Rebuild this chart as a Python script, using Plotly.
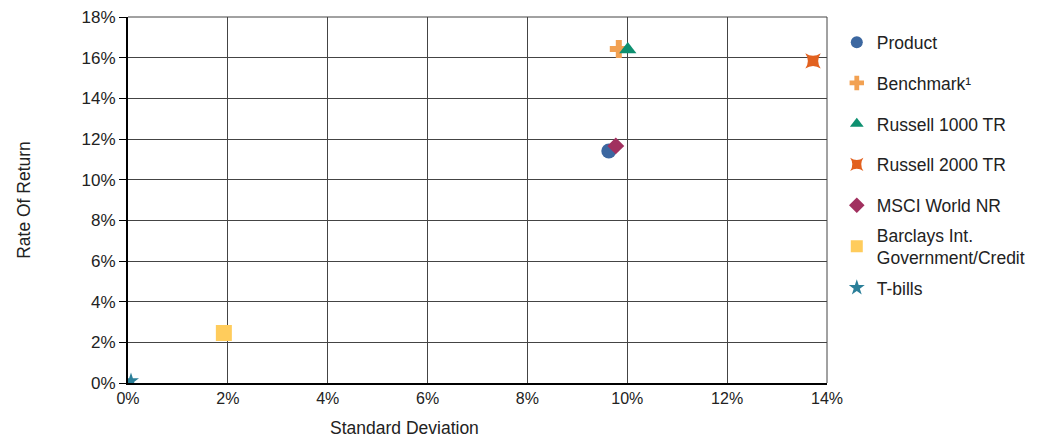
import plotly.graph_objects as go

names = ["Product", "Benchmark¹", "Russell 1000 TR", "Russell 2000 TR", "MSCI World NR",
         "Barclays Int.<br>Government/Credit", "T-bills"]
std_dev = [9.63, 9.83, 10.01, 13.72, 9.77, 1.92, 0.06]
ret = [11.41, 16.43, 16.40, 15.84, 11.66, 2.46, 0.10]
colors = ["#3C67A0", "#F2A152", "#0E9070", "#E2611F", "#A1305F", "#FFCC5C", "#2B7F99"]
symbols = ["circle", "cross", "triangle-up", "star-square", "diamond", "square", "star"]
sizes = [15, 15, 15, 14, 13, 16, 12]
legend_ids = ["legend", "legend", "legend", "legend", "legend", "legend3", "legend2"]

fig = go.Figure()
for i, n in enumerate(names):
    fig.add_trace(go.Scatter(
        x=[std_dev[i]], y=[ret[i]], mode="markers", name=n, legendgroup=n,
        legend=legend_ids[i],
        marker=dict(color=colors[i], symbol=symbols[i], size=sizes[i], line=dict(width=0)),
    ))

leg_font = dict(size=17.5, color="#222")
fig.update_layout(
    width=1034, height=431,
    margin=dict(l=120, r=215, t=9, b=56),
    paper_bgcolor="white", plot_bgcolor="white",
    font=dict(family="Liberation Sans, Arial, sans-serif", size=17, color="#222"),
    legend=dict(x=1.014, y=0.98, xanchor="left", yanchor="top", tracegroupgap=15,
                font=leg_font, itemsizing="constant", bgcolor="rgba(0,0,0,0)"),
    legend3=dict(x=1.014, y=0.373, xanchor="left", yanchor="middle",
                 font=leg_font, itemsizing="constant", bgcolor="rgba(0,0,0,0)"),
    legend2=dict(x=1.014, y=0.26, xanchor="left", yanchor="middle",
                 font=leg_font, itemsizing="constant", bgcolor="rgba(0,0,0,0)"),
    xaxis=dict(range=[0, 14], dtick=2, ticksuffix="%", showgrid=True, gridcolor="#444",
               gridwidth=1, showline=True, linecolor="black", linewidth=2, zeroline=False,
               tickfont=dict(size=16), ticks="", automargin=False, ticklabeloverflow="allow"),
    yaxis=dict(range=[0, 18], dtick=2, ticksuffix="%", showgrid=True, gridcolor="#444",
               gridwidth=1, showline=True, linecolor="black", linewidth=2, zeroline=False,
               tickfont=dict(size=17), title=dict(text="Rate Of Return", font=dict(size=17.5), standoff=46),
               ticks="outside", ticklen=7, tickcolor="black", tickwidth=1, automargin=False,
               ticklabeloverflow="allow"),
    showlegend=True,
)
fig.add_annotation(text="Standard Deviation", xref="paper", yref="paper", x=0.396, y=-0.123,
                   xanchor="center", yanchor="middle", showarrow=False,
                   font=dict(size=17.5, color="#222"))
fig.add_shape(type="line", xref="paper", yref="paper", x0=0, x1=1, y0=1, y1=1,
              line=dict(color="#444", width=1))
fig.add_shape(type="line", xref="paper", yref="paper", x0=1, x1=1, y0=0, y1=1,
              line=dict(color="#444", width=1))
fig.write_html("out.html")
